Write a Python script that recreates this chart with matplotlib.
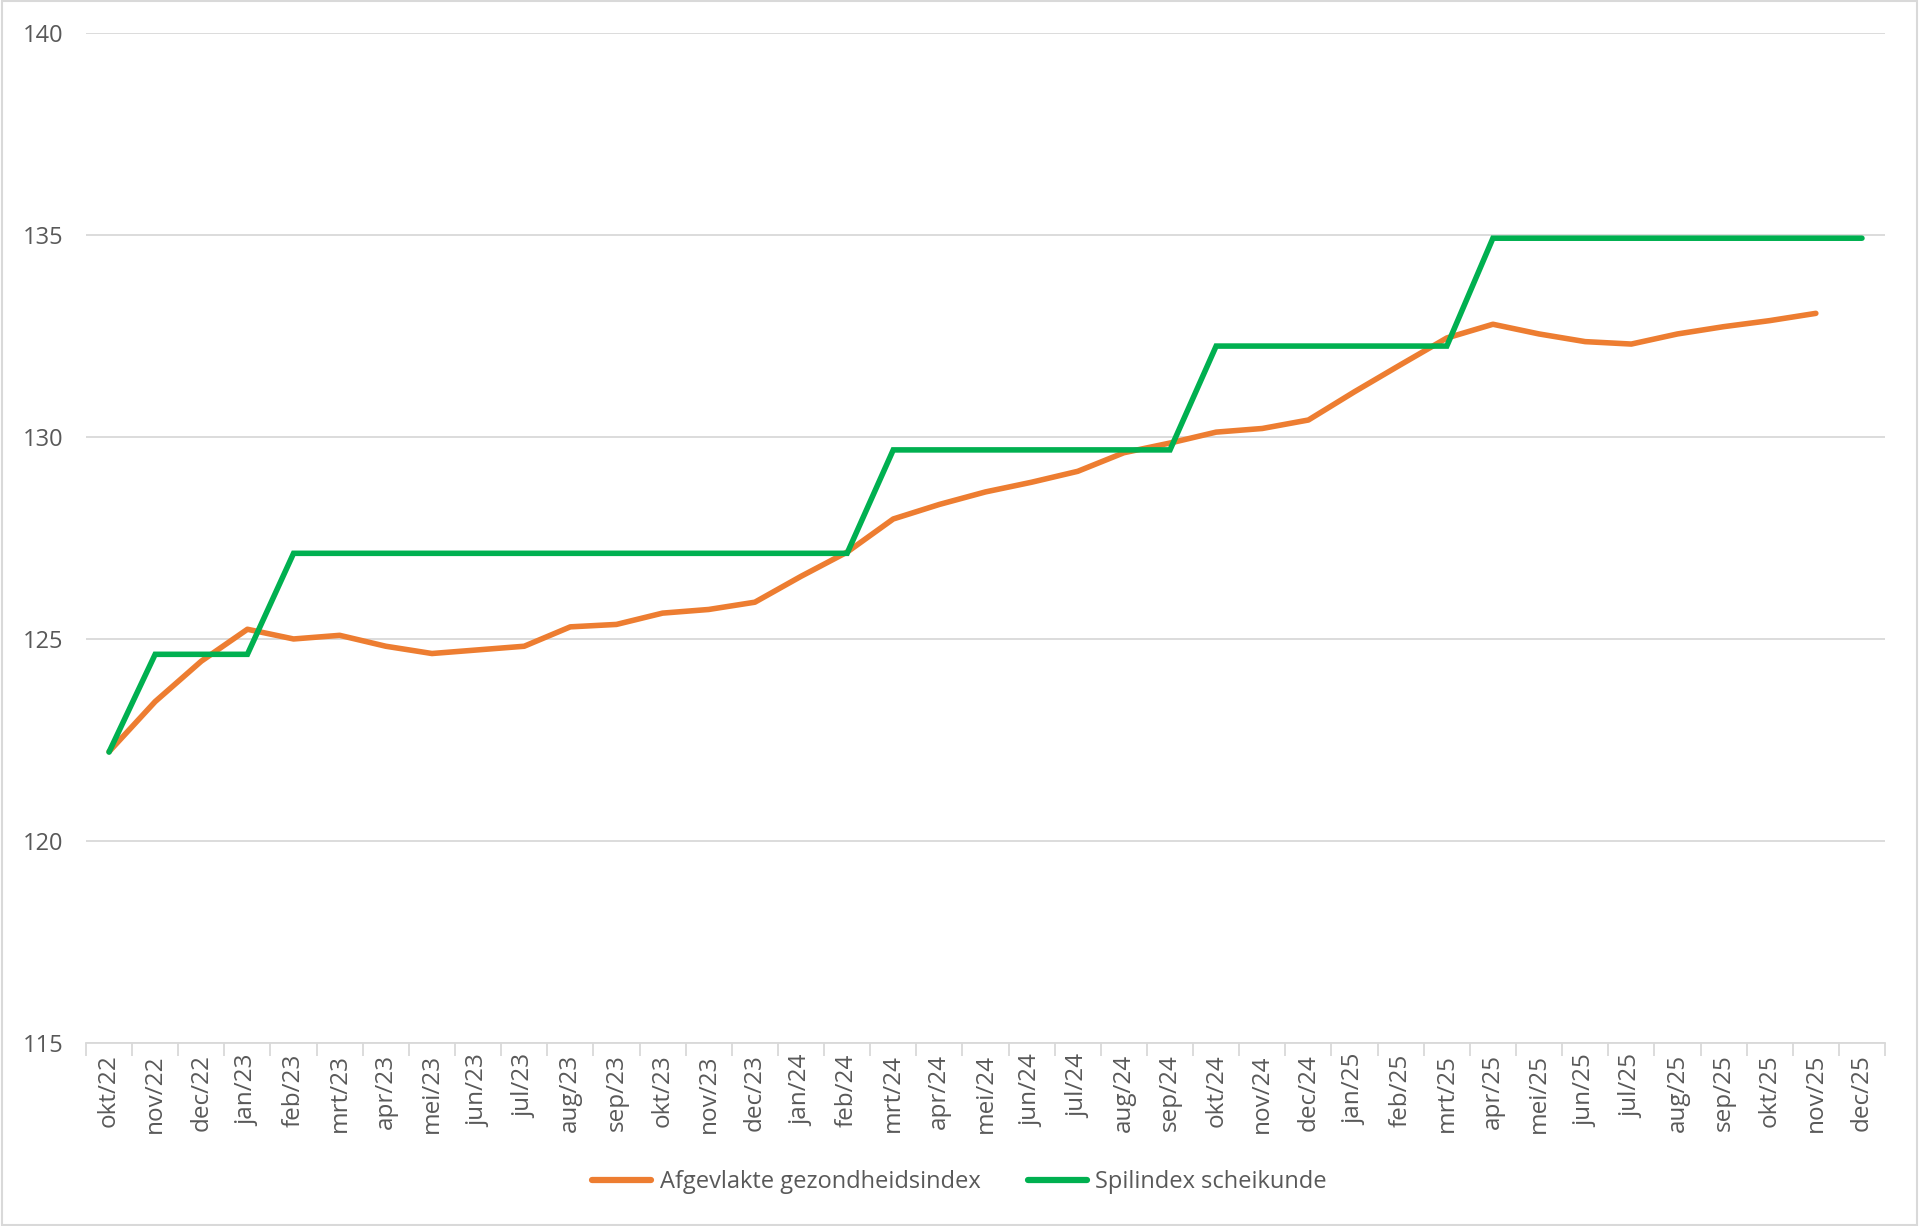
import matplotlib.pyplot as plt
from matplotlib.lines import Line2D
from matplotlib.patches import Rectangle

months = ["okt/22", "nov/22", "dec/22", "jan/23", "feb/23", "mrt/23", "apr/23", "mei/23",
          "jun/23", "jul/23", "aug/23", "sep/23", "okt/23", "nov/23", "dec/23", "jan/24",
          "feb/24", "mrt/24", "apr/24", "mei/24", "jun/24", "jul/24", "aug/24", "sep/24",
          "okt/24", "nov/24", "dec/24", "jan/25", "feb/25", "mrt/25", "apr/25", "mei/25",
          "jun/25", "jul/25", "aug/25", "sep/25", "okt/25", "nov/25", "dec/25"]

gezondheidsindex = [122.21, 123.45, 124.45, 125.24, 125.00, 125.09, 124.82, 124.64,
                    124.73, 124.82, 125.30, 125.36, 125.64, 125.73, 125.91, 126.55,
                    127.15, 127.97, 128.33, 128.64, 128.88, 129.15, 129.61, 129.85,
                    130.12, 130.21, 130.42, 131.12, 131.79, 132.45, 132.79, 132.55,
                    132.36, 132.30, 132.55, 132.73, 132.88, 133.06]

spilindex = [122.2, 124.62, 124.62, 124.62, 127.12, 127.12, 127.12, 127.12,
             127.12, 127.12, 127.12, 127.12, 127.12, 127.12, 127.12, 127.12,
             127.12, 129.68, 129.68, 129.68, 129.68, 129.68, 129.68, 129.68,
             132.25, 132.25, 132.25, 132.25, 132.25, 132.25, 134.92, 134.92,
             134.92, 134.92, 134.92, 134.92, 134.92, 134.92, 134.92]

ORANGE = "#ED7D31"
GREEN = "#00B050"
GREY = "#595959"

fig = plt.figure(figsize=(19.19, 12.26), dpi=100)
ax = fig.add_axes([0.0448, 0.1493, 0.9375, 0.8238])

ax.plot(range(len(gezondheidsindex)), gezondheidsindex, color=ORANGE, lw=4.0,
        solid_capstyle="round", solid_joinstyle="round")
ax.plot(range(len(spilindex)), spilindex, color=GREEN, lw=4.0,
        solid_capstyle="round", solid_joinstyle="miter")

ax.set_ylim(115, 140)
ax.set_yticks([115, 120, 125, 130, 135, 140])
ax.set_xlim(-0.5, len(months) - 0.5)
ax.set_xticks(range(len(months)))
ax.set_xticklabels(months, rotation=90, fontsize=17.5, color=GREY, family=["Open Sans", "DejaVu Sans"])
ax.set_xticks([i - 0.5 for i in range(len(months) + 1)], minor=True)
ax.tick_params(axis="x", which="major", length=0, pad=8)
ax.tick_params(axis="x", which="minor", length=9, color="#D9D9D9", width=1.3)
ax.tick_params(axis="y", length=0, labelsize=17, labelcolor=GREY, pad=16)
for lbl in ax.get_yticklabels():
    lbl.set_family(["Liberation Sans Narrow", "Open Sans", "DejaVu Sans"])

ax.grid(axis="y", color="#D9D9D9", lw=1.3)
ax.set_axisbelow(True)
for side in ["top", "right", "left"]:
    ax.spines[side].set_visible(False)
ax.spines["bottom"].set_color("#D9D9D9")
ax.spines["bottom"].set_linewidth(1.3)

handles = [Line2D([], [], color=ORANGE, lw=4.5, solid_capstyle="round"),
           Line2D([], [], color=GREEN, lw=4.5, solid_capstyle="round")]
leg = fig.legend(handles, ["Afgevlakte gezondheidsindex", "Spilindex scheikunde"],
                 loc="center", bbox_to_anchor=(0.5, 1 - 1182 / 1226), ncol=2, frameon=False,
                 handlelength=2.5, handletextpad=0.35, columnspacing=2.0,
                 prop={"family": ["Liberation Sans Narrow", "Open Sans", "DejaVu Sans"], "size": 17})
for t in leg.get_texts():
    t.set_color(GREY)

fig.patches.append(Rectangle((0.001, 0.001), 0.998, 0.998, transform=fig.transFigure,
                             fill=False, edgecolor="#D9D9D9", lw=1.5))

fig.savefig("out.png", dpi=100)
